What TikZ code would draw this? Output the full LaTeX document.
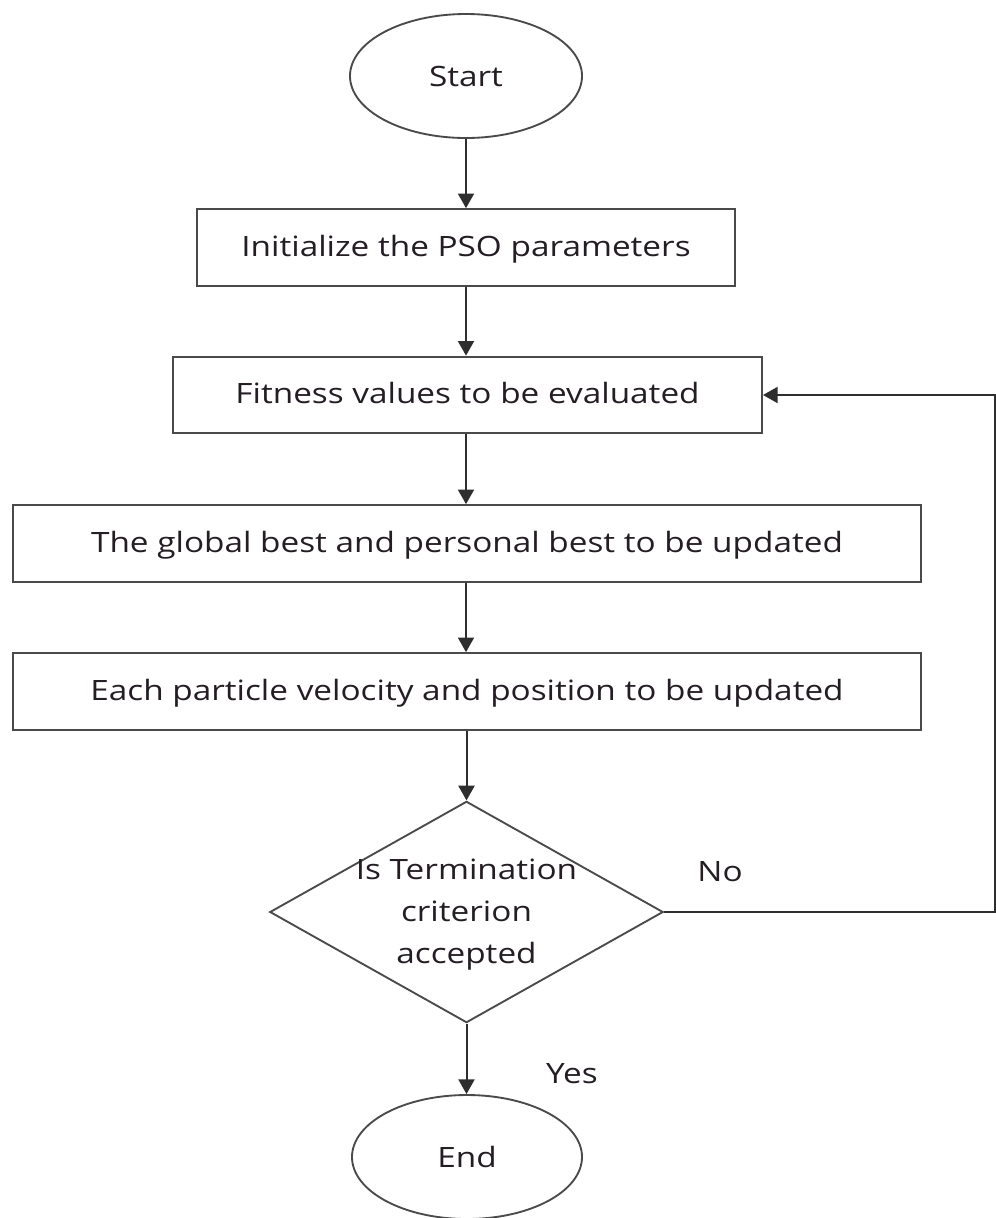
\documentclass[tikz,border=0pt]{standalone}
\usepackage{fontspec}
\setmainfont[FakeStretch=1.19]{Open Sans}
\usetikzlibrary{shapes.geometric,arrows.meta}
\definecolor{edge}{HTML}{4A4A4A}
\definecolor{wire}{HTML}{2E2E2E}
\definecolor{ink}{HTML}{241E24}
\begin{document}
\begin{tikzpicture}[x=0.75pt,y=-0.75pt,
  font=\fontsize{21}{31.5}\selectfont, text=ink,
  terminal/.style={ellipse,draw=edge,line width=1.4pt,inner sep=0pt,
    minimum width=174pt,minimum height=93pt},
  stepbox/.style={rectangle,draw=edge,line width=1.5pt,inner sep=0pt,
    minimum height=57.5pt,text height=14pt,text depth=1pt},
  decision/.style={diamond,draw=edge,line width=1.4pt,inner sep=0pt,
    minimum width=295pt,minimum height=166pt},
  flow/.style={draw=wire,line width=1.5pt,-{Triangle[length=11pt,width=12pt]}}]
\useasboundingbox (0,0) rectangle (996,1218);
\fill[white] (0,0) rectangle (996,1218);

\node[terminal] (start) at (466,76) {Start};
\node[stepbox,minimum width=403.5pt] (init) at (466,247.5) {Initialize the PSO parameters};
\node[stepbox,minimum width=441.75pt] (fit) at (467.5,395) {Fitness values to be evaluated};
\node[stepbox,minimum width=681pt] (best) at (467,543.5) {The global best and personal best to be updated};
\node[stepbox,minimum width=681pt] (move) at (467,691.5) {Each particle velocity and position to be updated};
\node[decision] (dec) at (466.5,912) {};
\node[align=center] (dectext) at (466.5,915) {Is Termination\\criterion\\accepted};
\node[terminal,minimum width=172.5pt] (end) at (467,1157) {End};

\coordinate (rim) at (995,912);

\draw[flow] (start.south) -- (init.north);
\draw[flow] (init.south) -- (fit.north -| init.south);
\draw[flow] (fit.south -| init.south) -- (best.north -| init.south);
\draw[flow] (best.south -| init.south) -- (move.north -| init.south);
\draw[flow] (move.south -| dec.north) -- (dec.north);
\draw[flow] (dec.south) -- (end.north -| dec.south);
\draw[flow] (dec.east) -- (rim) |- (fit.east);

\node (no) at (720,872) {No};
\node (yes) at (572,1074) {Yes};
\end{tikzpicture}
\end{document}
